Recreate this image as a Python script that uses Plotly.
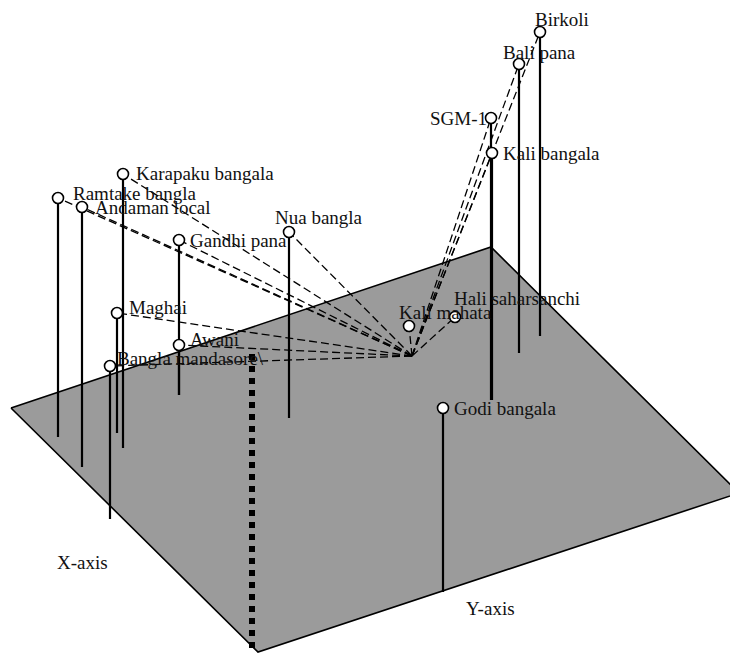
import plotly.graph_objects as go

# Projected (screen-plane) coordinates of the biplot, y grows downward
genotypes = [
    "Birkoli", "Bali pana", "SGM-1", "Kali bangala", "Kali mahata",
    "Hali saharsanchi", "Godi bangala", "Karapaku bangala", "Ramtake bangla",
    "Andaman local", "Gandhi pana", "Nua bangla", "Maghai", "Awani",
    "Bangla mandasore\\",
]
point_x = [540, 519, 491, 492, 409, 455, 443, 123, 58, 82, 179, 289, 117, 179, 110]
point_y = [32, 64, 118, 153, 326, 317, 408, 174, 198, 207, 240, 232, 313, 345, 366]
# where each drop line meets the base plane (None: no drop line)
stick_base_y = [336, 353, 400, 400, None, None, 592, 448, 437, 467, 395, 418, 433, 395, 519]
# genotypes joined to the origin by a dashed vector
has_vector = [True, True, True, True, True, True, False, True, True,
              True, True, True, True, True, True]

origin = (412, 356)
plane_x = [11, 491, 739, 258]
plane_y = [408, 247, 493, 652]
vertical_axis_x = [252, 252]
vertical_axis_y = [354, 660]

axis_names = ["X-axis", "Y-axis"]
axis_name_x = [82, 490]
axis_name_y = [562, 608]

# label placement: (left edge offset, vertical offset, anchor) in pixels
label_style = {
    "Birkoli": (-7, -13, "left"),
    "Bali pana": (-18, -12, "left"),
    "SGM-1": (-2, 0, "right"),
    "Kali bangala": (9, 0, "left"),
    "Kali mahata": (-12, -14, "left"),
    "Hali saharsanchi": (-3, -19, "left"),
    "Godi bangala": (9, 0, "left"),
    "Karapaku bangala": (11, -1, "left"),
    "Ramtake bangla": (13, -5, "left"),
    "Andaman local": (11, 0, "left"),
    "Gandhi pana": (9, 0, "left"),
    "Nua bangla": (-16, -15, "left"),
    "Maghai": (10, -6, "left"),
    "Awani": (9, -6, "left"),
    "Bangla mandasore\\": (5, -8, "left"),
}

FONT = dict(family="Liberation Serif, Times New Roman, serif", size=19, color="#111111")

fig = go.Figure()

# base plane
fig.add_trace(go.Scatter(
    x=plane_x + [plane_x[0]], y=plane_y + [plane_y[0]],
    mode="lines", fill="toself", fillcolor="#9b9b9b",
    line=dict(color="black", width=1.6), hoverinfo="skip",
))

# dotted vertical axis
fig.add_trace(go.Scatter(
    x=vertical_axis_x, y=vertical_axis_y, mode="lines",
    line=dict(color="black", width=6, dash="6px,6px"), hoverinfo="skip",
))

# drop lines to the plane
sx, sy = [], []
for px, py, by in zip(point_x, point_y, stick_base_y):
    if by is None:
        continue
    sx += [px, px, None]
    sy += [py, by, None]
fig.add_trace(go.Scatter(
    x=sx, y=sy, mode="lines", line=dict(color="black", width=2.2),
    hoverinfo="skip",
))

# dashed vectors from origin
vx, vy = [], []
for px, py, v in zip(point_x, point_y, has_vector):
    if not v:
        continue
    vx += [origin[0], px, None]
    vy += [origin[1], py, None]
fig.add_trace(go.Scatter(
    x=vx, y=vy, mode="lines", line=dict(color="black", width=1.3, dash="8px,4px"),
    hoverinfo="skip",
))

# genotype markers
fig.add_trace(go.Scatter(
    x=point_x, y=point_y, mode="markers",
    marker=dict(size=11, color="white", line=dict(color="black", width=1.6)),
    text=genotypes, hoverinfo="text",
))

for name, px, py in zip(genotypes, point_x, point_y):
    dx, dy, anchor = label_style[name]
    fig.add_annotation(
        x=px, y=py, text=name, showarrow=False, font=FONT,
        xanchor=anchor, yanchor="middle", xshift=dx, yshift=-dy,
    )

for name, ax, ay in zip(axis_names, axis_name_x, axis_name_y):
    fig.add_annotation(x=ax, y=ay, text=name, showarrow=False, font=FONT,
                       xanchor="center", yanchor="middle")

fig.update_layout(
    width=730, height=654, margin=dict(l=0, r=0, t=0, b=0),
    paper_bgcolor="white", plot_bgcolor="white", showlegend=False,
    xaxis=dict(range=[0, 730], visible=False, fixedrange=True),
    yaxis=dict(range=[654, 0], visible=False, fixedrange=True),
)

fig.write_html("out.html")
